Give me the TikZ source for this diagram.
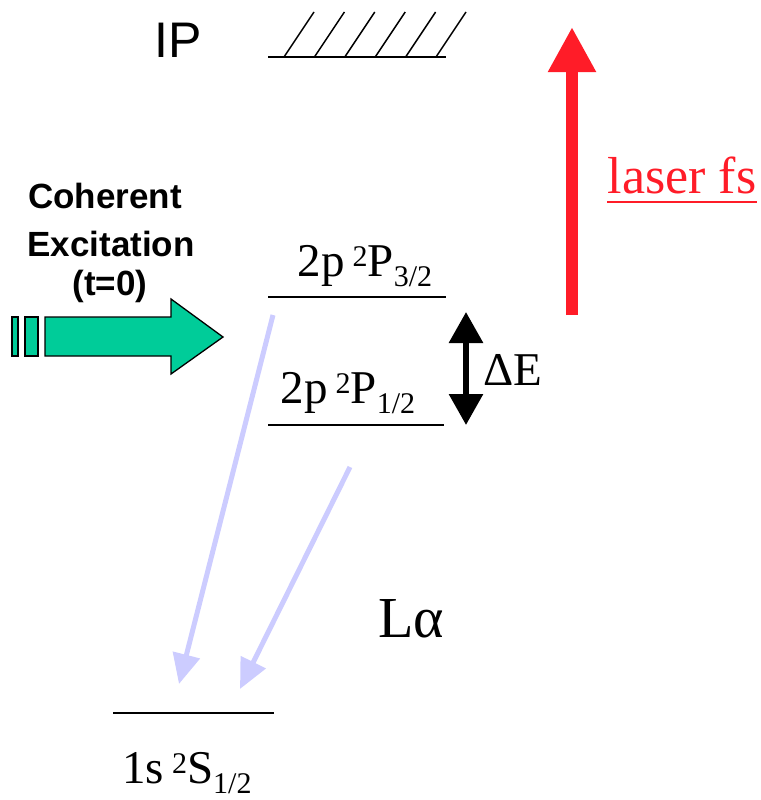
\documentclass[tikz,border=0pt]{standalone}
\usepackage{fontspec}
\setmainfont{Liberation Serif}
\setsansfont{Liberation Sans}
\usetikzlibrary{arrows.meta}
\definecolor{laserred}{RGB}{255,28,40}
\definecolor{excgreen}{RGB}{0,204,153}
\definecolor{decayblue}{RGB}{204,204,255}
\newcommand{\lvl}[4]{#1\,\raisebox{10pt}{\fontsize{30}{32}\selectfont #2}#3\raisebox{-10pt}{\fontsize{30}{32}\selectfont #4}}
\begin{document}
\begin{tikzpicture}[x=1pt,y=-1pt,
  lbl/.style={inner sep=0pt,anchor=base},
  serif46/.style={lbl,font=\fontsize{47}{50}\selectfont},
  levelline/.style={line width=2pt},
  hatch/.style={line width=1.5pt},
  decay/.style={decayblue,line width=5pt,-{Triangle[width=27pt,length=30pt]}},
  exctext/.style={lbl,font=\sffamily\bfseries\fontsize{35}{38}\selectfont}]
\useasboundingbox (0,0) rectangle (760,800);
% ionisation potential
\node[lbl,font=\sffamily\fontsize{50}{54}\selectfont] (ip) at (178,57) {IP};
\coordinate (ipL) at (268,57);
\coordinate (ipR) at (446,57);
\draw[levelline] (ipL) -- (ipR);
\foreach \i in {0,...,5}{
  \draw[hatch] (284+30.4*\i,57) -- (314+30.4*\i,12);
}
% levels
\coordinate (p32L) at (268,297); \coordinate (p32R) at (446,297);
\coordinate (p12L) at (268,425); \coordinate (p12R) at (444,425);
\coordinate (s12L) at (113,713); \coordinate (s12R) at (274,713);
\draw[levelline] (p32L) -- (p32R);
\draw[levelline] (p12L) -- (p12R);
\draw[levelline] (s12L) -- (s12R);
\node[serif46] (t32) at (365,276) {\lvl{2p}{2}{P}{3/2}};
\node[serif46] (t12) at (348,403) {\lvl{2p}{2}{P}{1/2}};
\node[serif46] (ts12) at (187,783) {\lvl{1s}{2}{S}{1/2}};
% decay arrows
\coordinate (d1s) at (273,315); \coordinate (d1e) at (179,684);
\coordinate (d2s) at (350,467); \coordinate (d2e) at (240,689);
\draw[decay] (d1s) -- (d1e);
\draw[decay] (d2s) -- (d2e);
\node[lbl,font=\fontsize{58}{62}\selectfont] (la) at (411,637) {Lα};
% Delta E
\coordinate (deT) at (466,312); \coordinate (deB) at (466,425);
\draw[line width=6pt,{Triangle[width=33pt,length=31pt]}-{Triangle[width=33pt,length=31pt]}] (deT) -- (deB);
\node[lbl,font=\fontsize{47}{50}\selectfont] (de) at (513,385) {ΔE};
% laser
\coordinate (lzB) at (572,315); \coordinate (lzT) at (572,27);
\draw[laserred,line width=12pt,-{Triangle[width=45pt,length=45pt]}] (lzB) -- (lzT);
\node[lbl,font=\fontsize{52}{56}\selectfont,text=laserred] (laser) at (682,193) {laser fs};
\draw[laserred,line width=2.5pt] ([yshift=-9pt]laser.base west) -- ([yshift=-9pt]laser.base east);
% coherent excitation
\node[exctext] (c1) at (105,208) {Coherent};
\node[exctext] (c2) at (111,256) {Excitation};
\node[exctext] (c3) at (110,295) {(t=0)};
\draw[fill=excgreen,line width=1.3pt] (12,317) rectangle (18,356);
\draw[fill=excgreen,line width=1.3pt] (25,317) rectangle (38,356);
\draw[fill=excgreen,line width=1.3pt,line join=miter] (45,317) -- (171,317) -- (171,299) -- (223,337) -- (171,374) -- (171,356) -- (45,356) -- cycle;
\end{tikzpicture}
\end{document}
